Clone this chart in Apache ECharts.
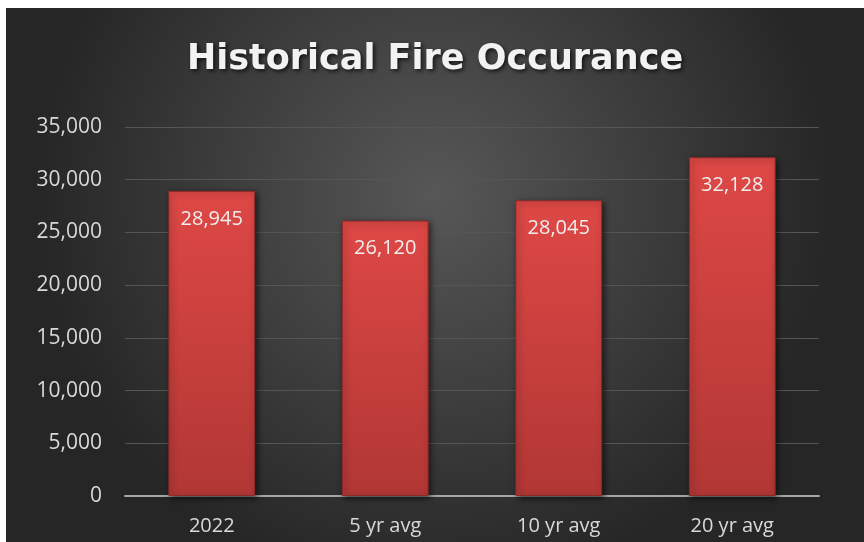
<!DOCTYPE html>
<html>
<head>
<meta charset="utf-8">
<script src="https://cdn.jsdelivr.net/npm/echarts@6/dist/echarts.min.js"></script>
<style>
    html, body { margin: 0; padding: 0; background: #fff; }
    #chart { position: absolute; left: 6px; top: 8px; width: 858px; height: 534px; }
</style>
</head>
<body>
<div id="chart"></div>
<script>
    // data
    var categories = ['2022', '5 yr avg', '10 yr avg', '20 yr avg'];
    var fires = [28945, 26120, 28045, 32128];

    var chart = echarts.init(document.getElementById('chart'));
    chart.setOption({
        backgroundColor: {
            type: 'radial', x: 0.5, y: 0.35, r: 0.75,
            colorStops: [
                { offset: 0, color: '#575757' },
                { offset: 1, color: '#262626' }
            ]
        },
        title: {
            text: 'Historical Fire Occurance',
            left: 'center',
            top: 29,
            textStyle: {
                color: '#f2f2f2',
                fontFamily: 'DejaVu Sans',
                fontWeight: 'bold',
                fontSize: 35,
                textShadowColor: 'rgba(0,0,0,0.7)',
                textShadowBlur: 4,
                textShadowOffsetX: 2,
                textShadowOffsetY: 2
            }
        },
        grid: { left: 119, right: 45, top: 119, bottom: 46 },
        xAxis: {
            type: 'category',
            data: categories,
            axisTick: { show: false },
            axisLine: { lineStyle: { color: '#a6a6a6', width: 2 } },
            axisLabel: { color: '#d9d9d9', fontSize: 20, fontFamily: 'Open Sans', margin: 20 }
        },
        yAxis: {
            type: 'value',
            min: 0, max: 35000, interval: 5000,
            axisLabel: {
                color: '#d9d9d9', fontSize: 21, fontFamily: 'Open Sans', margin: 23,
                formatter: function (v) { return v.toLocaleString('en-US'); }
            },
            splitLine: { lineStyle: { color: '#555555', width: 1 } }
        },
        series: [{
            type: 'bar',
            data: fires,
            barWidth: '50%',
            itemStyle: {
                color: {
                    type: 'linear', x: 0, y: 0, x2: 0, y2: 1,
                    colorStops: [
                        { offset: 0, color: '#de4845' },
                        { offset: 1, color: '#b13735' }
                    ]
                },
                borderColor: '#8e2a28',
                borderWidth: 1,
                shadowColor: 'rgba(0,0,0,0.6)',
                shadowBlur: 6,
                shadowOffsetX: 2,
                shadowOffsetY: 2
            },
            label: {
                show: true,
                position: 'insideTop',
                distance: 18,
                color: '#eeeeee',
                fontSize: 20,
                fontFamily: 'Open Sans',
                formatter: function (p) { return p.value.toLocaleString('en-US'); }
            }
        }]
    });
</script>
</body>
</html>
